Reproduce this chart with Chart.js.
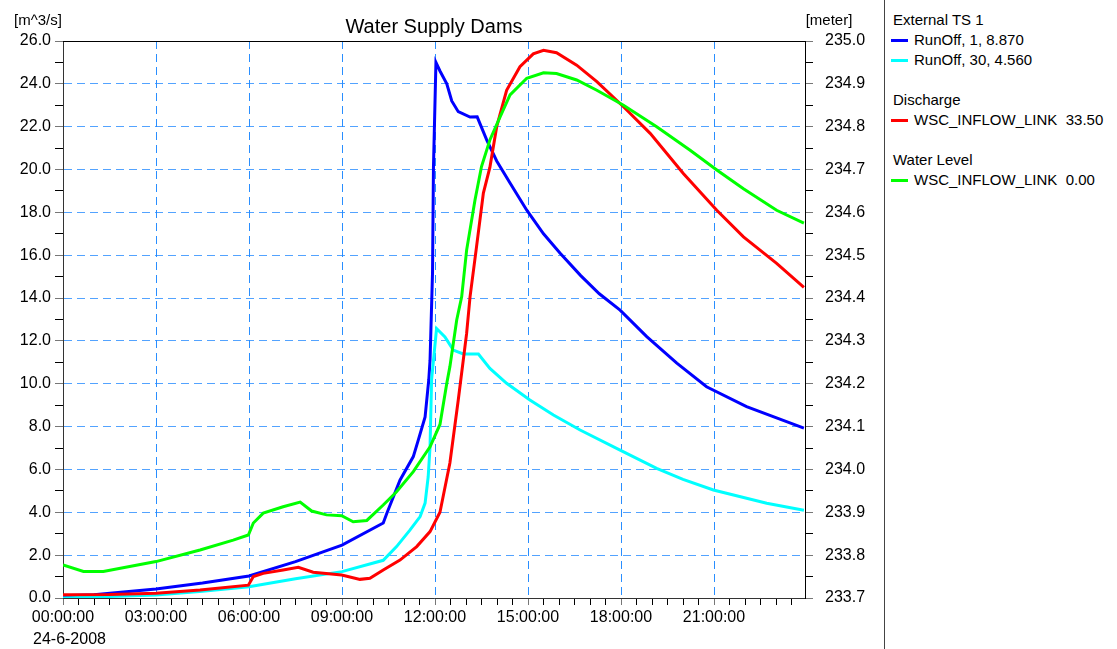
<!DOCTYPE html>
<html>
<head>
<meta charset="utf-8">
<script src="https://cdn.jsdelivr.net/npm/chart.js@4.4.0/dist/chart.umd.min.js"></script>
<style>
html, body { margin: 0; padding: 0; background: #fff; }
#wrap { position: relative; width: 1117px; height: 649px; font-family: "Liberation Sans", Arial, sans-serif; }
#c { position: absolute; left: 0; top: 0; }
#legend { position: absolute; left: 884px; top: 0; width: 232px; height: 649px; border-left: 1px solid #444; font-size: 15px; color: #000; }
.grp, .item { position: absolute; white-space: pre; line-height: 18px; }
.grp { left: 8px; }
.item { left: 29px; }
.swatch { position: absolute; left: -23px; top: 8px; width: 17px; height: 3px; }
</style>
</head>
<body>
<div id="wrap">
  <canvas id="c" width="884" height="649"></canvas>
  <div id="legend"></div>
</div>
<script>
// time in hours since 24-6-2008 00:00:00
var runoff1T = [0, 1.0, 1.6, 3.0, 4.5, 6.0, 7.5, 9.0, 10.33, 10.45, 10.87, 11.3, 11.46, 11.68, 11.8, 11.84, 11.92, 11.95, 12.03,
  12.16, 12.38, 12.54, 12.75, 13.13, 13.36, 13.67, 13.99, 14.42, 14.96, 15.5, 16.03, 16.7, 17.3, 17.97, 18.83, 19.8, 20.76, 22.05, 23.9];
var runoff1V = [0.1, 0.15, 0.23, 0.42, 0.7, 1.03, 1.7, 2.47, 3.5, 3.97, 5.5, 6.6, 7.37, 8.45, 10.2, 11.1, 15.2, 20.1, 25.0,
  24.6, 24.0, 23.2, 22.7, 22.45, 22.46, 21.37, 20.4, 19.37, 18.1, 17.0, 16.1, 15.05, 14.2, 13.44, 12.2, 10.96, 9.86, 8.93, 7.93];

var runoff30T = [0, 1.5, 3.0, 4.5, 6.0, 7.5, 9.0, 10.33, 10.76, 11.19, 11.52, 11.68, 11.78, 11.84, 11.89, 12.05,
  12.32, 12.59, 12.91, 13.4, 13.77, 14.31, 15.06, 15.82, 16.68, 17.97, 19.15, 20.0, 20.98, 22.7, 23.9];
var runoff30V = [0.0, 0.07, 0.14, 0.32, 0.53, 0.9, 1.23, 1.76, 2.4, 3.17, 3.8, 4.43, 5.66, 7.06, 10.2, 12.58,
  12.19, 11.57, 11.39, 11.39, 10.72, 10.02, 9.24, 8.54, 7.84, 6.9, 6.05, 5.54, 5.04, 4.42, 4.1];

var dischargeT = [0, 1.5, 3.0, 4.42, 5.98, 6.14, 6.46, 7.1, 7.59, 8.07, 8.99, 9.58, 9.9, 10.33, 10.87, 11.41, 11.84, 12.16,
  12.48, 12.75, 13.02, 13.13, 13.34, 13.56, 13.77, 13.99, 14.31, 14.74, 15.17, 15.5, 15.92, 16.57, 17.22, 18.08, 18.94,
  20.01, 21.09, 21.95, 23.02, 23.9];
var dischargeV = [0.15, 0.16, 0.22, 0.37, 0.6, 1.0, 1.15, 1.31, 1.43, 1.2, 1.07, 0.87, 0.92, 1.31, 1.77, 2.4, 3.1, 4.0,
  6.3, 9.24, 12.35, 14.06, 16.4, 18.9, 20.1, 22.0, 23.7, 24.8, 25.4, 25.57, 25.45, 24.87, 24.1, 22.93, 21.69,
  19.82, 18.1, 16.86, 15.62, 14.5];

var levelT = [0, 0.66, 1.3, 3.0, 4.42, 5.49, 5.98, 6.14, 6.46, 7.1, 7.65, 8.02, 8.5, 8.99, 9.36, 9.8, 10.33, 10.76, 11.3,
  11.84, 12.16, 12.38, 12.48, 12.7, 12.86, 13.02, 13.29, 13.5, 13.77, 14.1, 14.42, 14.96, 15.5, 15.92, 16.57, 17.22,
  18.08, 19.15, 20.23, 21.09, 21.95, 23.02, 23.9];
var levelV = [233.777, 233.762, 233.762, 233.785, 233.812, 233.835, 233.847, 233.875, 233.898, 233.913, 233.924, 233.903,
  233.894, 233.892, 233.878, 233.881, 233.917, 233.948, 233.995, 234.053, 234.105, 234.201, 234.24, 234.349, 234.403,
  234.512, 234.629, 234.707, 234.769, 234.823, 234.874, 234.913, 234.926, 234.924, 234.909, 234.885, 234.85, 234.80,
  234.745, 234.699, 234.655, 234.605, 234.575];

var groups = ['External TS 1', 'Discharge', 'Water Level'];
var seriesNames = ['RunOff, 1, 8.870', 'RunOff, 30, 4.560', 'WSC_INFLOW_LINK  33.50', 'WSC_INFLOW_LINK  0.00'];
var seriesColors = ['#0000ff', '#00ffff', '#ff0000', '#00ff00'];

function pts(t, v) {
  return t.map(function (x, i) { return { x: x, y: v[i] }; });
}
function isMult(v, m) {
  return Math.abs(v / m - Math.round(v / m)) < 1e-6;
}
var FONT = '"Liberation Sans", Arial, sans-serif';

// legend on the right
var legend = document.getElementById('legend');
var rows = [
  { g: groups[0], top: 11 }, { s: 0, top: 31 }, { s: 1, top: 51 },
  { g: groups[1], top: 91 }, { s: 2, top: 111 },
  { g: groups[2], top: 151 }, { s: 3, top: 171 }
];
rows.forEach(function (r) {
  var d = document.createElement('div');
  d.style.top = r.top + 'px';
  if (r.g) {
    d.className = 'grp';
    d.textContent = r.g;
  } else {
    d.className = 'item';
    d.textContent = seriesNames[r.s];
    var sw = document.createElement('span');
    sw.className = 'swatch';
    sw.style.background = seriesColors[r.s];
    d.appendChild(sw);
  }
  legend.appendChild(d);
});

var decor = {
  id: 'decor',
  afterDraw: function (chart) {
    var ctx = chart.ctx, a = chart.chartArea;
    ctx.save();
    ctx.strokeStyle = '#000';
    ctx.lineWidth = 1;
    ctx.beginPath();
    ctx.moveTo(a.left, a.top + 0.5);
    ctx.lineTo(a.right, a.top + 0.5);
    ctx.stroke();
    ctx.fillStyle = '#000';
    ctx.textBaseline = 'middle';
    ctx.textAlign = 'center';
    ctx.font = '20px ' + FONT;
    ctx.fillText('Water Supply Dams', (a.left + a.right) / 2, 27);
    ctx.font = '15px ' + FONT;
    ctx.fillText('[m^3/s]', 38, 21);
    ctx.fillText('[meter]', 829, 21);
    ctx.textAlign = 'left';
    ctx.font = '16px ' + FONT;
    ctx.fillText('24-6-2008', 33, 640);
    ctx.restore();
  }
};

var line = function (label, data, color, axis, order) {
  return {
    label: label, data: data, borderColor: color, backgroundColor: color,
    borderWidth: 3, pointRadius: 0, tension: 0, fill: false, yAxisID: axis, order: order
  };
};

new Chart(document.getElementById('c'), {
  type: 'line',
  data: {
    datasets: [
      line(seriesNames[0], pts(runoff1T, runoff1V), seriesColors[0], 'y', 4),
      line(seriesNames[1], pts(runoff30T, runoff30V), seriesColors[1], 'y', 3),
      line(seriesNames[2], pts(dischargeT, dischargeV), seriesColors[2], 'y', 2),
      line(seriesNames[3], pts(levelT, levelV), seriesColors[3], 'y1', 1)
    ]
  },
  plugins: [decor],
  options: {
    responsive: false,
    animation: false,
    devicePixelRatio: 1,
    layout: { padding: { top: 41, left: 0, right: 0, bottom: 0 } },
    plugins: { legend: { display: false }, title: { display: false }, tooltip: { enabled: false } },
    scales: {
      x: {
        type: 'linear', min: 0, max: 23.935,
        afterFit: function (s) { s.height = 51; },
        ticks: {
          stepSize: 0.5, includeBounds: false, autoSkip: false, maxRotation: 0, minRotation: 0,
          padding: 3, color: '#000', font: { family: FONT, size: 16 },
          callback: function (v) {
            return isMult(v, 3) ? String(Math.round(v)).padStart(2, '0') + ':00:00' : '';
          }
        },
        grid: {
          color: function (c) { return c.tick && isMult(c.tick.value, 3) ? 'rgba(30,136,255,0.95)' : 'rgba(0,0,0,0)'; },
          tickColor: function (c) { return c.tick && isMult(c.tick.value, 3) ? '#777' : '#000'; },
          tickLength: 7, lineWidth: 1
        },
        border: { color: '#333', width: 1, dash: [8, 5] }
      },
      y: {
        position: 'left', min: 0, max: 26,
        afterFit: function (s) { s.width = 63; },
        ticks: {
          stepSize: 1, autoSkip: false, padding: 4, color: '#000', font: { family: FONT, size: 16 },
          callback: function (v) { return isMult(v, 2) ? v.toFixed(1) : ''; }
        },
        grid: {
          color: function (c) { return c.tick && isMult(c.tick.value, 2) ? 'rgba(40,140,255,0.8)' : 'rgba(0,0,0,0)'; },
          tickColor: function (c) { return c.tick && isMult(c.tick.value, 2) ? '#777' : '#000'; },
          tickLength: 8, lineWidth: 1
        },
        border: { color: '#333', width: 1, dash: [8, 5] }
      },
      y1: {
        position: 'right', min: 233.7, max: 235.0,
        afterFit: function (s) { s.width = 79; },
        ticks: {
          stepSize: 0.05, autoSkip: false, padding: 12, color: '#000', font: { family: FONT, size: 16 },
          callback: function (v) { return Math.round((v - 233.7) * 20) % 2 === 0 ? v.toFixed(1) : ''; }
        },
        grid: {
          drawOnChartArea: false,
          tickColor: function (c) { return c.tick && Math.round((c.tick.value - 233.7) * 20) % 2 === 0 ? '#777' : '#000'; },
          tickLength: 8
        },
        border: { color: '#000', width: 1 }
      }
    }
  }
});
</script>
</body>
</html>
